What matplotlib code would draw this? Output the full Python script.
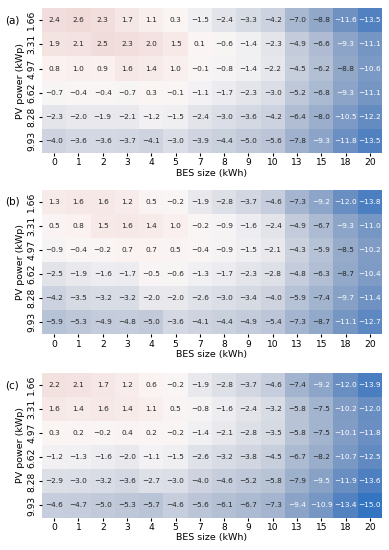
import matplotlib
matplotlib.use("Agg")
import matplotlib.pyplot as plt
import seaborn as sns
import numpy as np

bes_size = [0, 1, 2, 3, 4, 5, 7, 8, 9, 10, 13, 15, 18, 20]
pv_power = ["1.66", "3.31", "4.97", "6.62", "8.28", "9.93"]
panel_labels = ["(a)", "(b)", "(c)"]

vals_a = [
    [2.4, 2.6, 2.3, 1.7, 1.1, 0.3, -1.5, -2.4, -3.3, -4.2, -7.0, -8.8, -11.6, -13.5],
    [1.9, 2.1, 2.5, 2.3, 2.0, 1.5, 0.1, -0.6, -1.4, -2.3, -4.9, -6.6, -9.3, -11.1],
    [0.8, 1.0, 0.9, 1.6, 1.4, 1.0, -0.1, -0.8, -1.4, -2.2, -4.5, -6.2, -8.8, -10.6],
    [-0.7, -0.4, -0.4, -0.7, 0.3, -0.1, -1.1, -1.7, -2.3, -3.0, -5.2, -6.8, -9.3, -11.1],
    [-2.3, -2.0, -1.9, -2.1, -1.2, -1.5, -2.4, -3.0, -3.6, -4.2, -6.4, -8.0, -10.5, -12.2],
    [-4.0, -3.6, -3.6, -3.7, -4.1, -3.0, -3.9, -4.4, -5.0, -5.6, -7.8, -9.3, -11.8, -13.5],
]
vals_b = [
    [1.3, 1.6, 1.6, 1.2, 0.5, -0.2, -1.9, -2.8, -3.7, -4.6, -7.3, -9.2, -12.0, -13.8],
    [0.5, 0.8, 1.5, 1.6, 1.4, 1.0, -0.2, -0.9, -1.6, -2.4, -4.9, -6.7, -9.3, -11.0],
    [-0.9, -0.4, -0.2, 0.7, 0.7, 0.5, -0.4, -0.9, -1.5, -2.1, -4.3, -5.9, -8.5, -10.2],
    [-2.5, -1.9, -1.6, -1.7, -0.5, -0.6, -1.3, -1.7, -2.3, -2.8, -4.8, -6.3, -8.7, -10.4],
    [-4.2, -3.5, -3.2, -3.2, -2.0, -2.0, -2.6, -3.0, -3.4, -4.0, -5.9, -7.4, -9.7, -11.4],
    [-5.9, -5.3, -4.9, -4.8, -5.0, -3.6, -4.1, -4.4, -4.9, -5.4, -7.3, -8.7, -11.1, -12.7],
]
vals_c = [
    [2.2, 2.1, 1.7, 1.2, 0.6, -0.2, -1.9, -2.8, -3.7, -4.6, -7.4, -9.2, -12.0, -13.9],
    [1.6, 1.4, 1.6, 1.4, 1.1, 0.5, -0.8, -1.6, -2.4, -3.2, -5.8, -7.5, -10.2, -12.0],
    [0.3, 0.2, -0.2, 0.4, 0.2, -0.2, -1.4, -2.1, -2.8, -3.5, -5.8, -7.5, -10.1, -11.8],
    [-1.2, -1.3, -1.6, -2.0, -1.1, -1.5, -2.6, -3.2, -3.8, -4.5, -6.7, -8.2, -10.7, -12.5],
    [-2.9, -3.0, -3.2, -3.6, -2.7, -3.0, -4.0, -4.6, -5.2, -5.8, -7.9, -9.5, -11.9, -13.6],
    [-4.6, -4.7, -5.0, -5.3, -5.7, -4.6, -5.6, -6.1, -6.7, -7.3, -9.4, -10.9, -13.4, -15.0],
]

fig = plt.figure(figsize=(3.89, 5.5), dpi=100)
tops = [0.985, 0.655, 0.322]
h = 0.263

for vals, lab, top in zip([vals_a, vals_b, vals_c], panel_labels, tops):
    ax = fig.add_axes([0.108, top - h, 0.874, h])
    data = np.array(vals)
    sns.heatmap(data, ax=ax, cmap="vlag", center=0, vmin=-15, vmax=15,
                annot=False, cbar=False, alpha=0.92,
                xticklabels=bes_size, yticklabels=pv_power)
    # annotations by hand so the minus is a real minus sign
    for i, row in enumerate(vals):
        for j, v in enumerate(row):
            txt = f"{v:.1f}".replace("-", "\u2212")
            col = "white" if v <= -9.0 else "#262626"
            ax.text(j + 0.5, i + 0.5, txt, ha="center", va="center",
                    fontsize=5.3, color=col)
    ax.tick_params(axis="both", labelsize=6.6, length=2.5, pad=1.5)
    ax.set_yticklabels(pv_power, rotation=90, va="center")
    ax.set_xticklabels(bes_size, rotation=0)
    ax.set_xlabel("BES size (kWh)", fontsize=6.8, labelpad=1)
    ax.set_ylabel("PV power (kWp)", fontsize=6.8, labelpad=2)
    fig.text(0.012, top - 0.022, lab, fontsize=7.5, va="center")

fig.savefig("out.png", dpi=100)
